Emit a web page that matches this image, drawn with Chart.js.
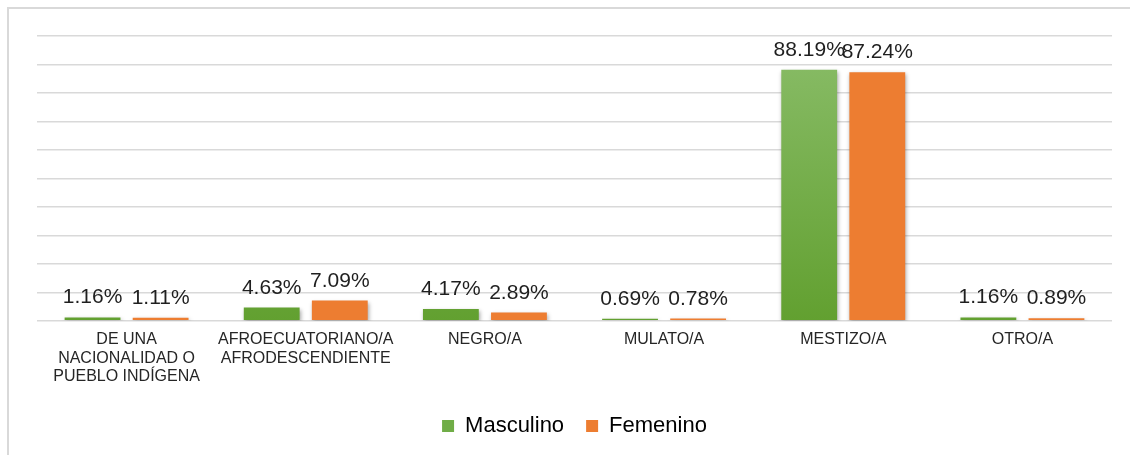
<!DOCTYPE html>
<html>
<head>
<meta charset="utf-8">
<script src="https://cdn.jsdelivr.net/npm/chart.js@4"></script>
<style>
  html, body { margin: 0; padding: 0; background: #fff; }
  body { width: 1130px; height: 455px; position: relative; overflow: hidden; }
  .frame {
    position: absolute; left: 7px; top: 7px; width: 1140px; height: 470px;
    border-left: 2px solid #d9d9d9; border-top: 2px solid #d9d9d9;
  }
  #wrap { position: absolute; left: 0; top: 0; width: 1130px; height: 455px; }
</style>
</head>
<body>
<div class="frame"></div>
<div id="wrap"><canvas id="chart"></canvas></div>
<script>
const categories = [
  ['DE UNA', 'NACIONALIDAD O', 'PUEBLO INDÍGENA'],
  ['AFROECUATORIANO/A', 'AFRODESCENDIENTE'],
  'NEGRO/A',
  'MULATO/A',
  'MESTIZO/A',
  'OTRO/A'
];
const masculino = [1.16, 4.63, 4.17, 0.69, 88.19, 1.16];
const femenino = [1.11, 7.09, 2.89, 0.78, 87.24, 0.89];
const yTicks = [0, 100, 10]; // min, max, step

const fontFamily = '"Liberation Sans", Arial, sans-serif';

// green gradient like the Excel fill
function greenFill(context) {
  const chart = context.chart;
  const area = chart.chartArea;
  if (!area) return '#70ad47';
  const g = chart.ctx.createLinearGradient(0, area.top, 0, area.bottom);
  g.addColorStop(0, '#8abd69');
  g.addColorStop(1, '#62a030');
  return g;
}

// soft shadow under the bars
const barShadow = {
  id: 'barShadow',
  beforeDatasetsDraw(chart) {
    const ctx = chart.ctx;
    ctx.save();
    ctx.shadowColor = 'rgba(0,0,0,0.35)';
    ctx.shadowBlur = 4;
    ctx.shadowOffsetX = 1;
    ctx.shadowOffsetY = 2;
  },
  afterDatasetsDraw(chart) {
    chart.ctx.restore();
  }
};

// value labels above each bar
const valueLabels = {
  id: 'valueLabels',
  afterDatasetsDraw(chart) {
    const ctx = chart.ctx;
    ctx.save();
    ctx.shadowColor = 'transparent';
    ctx.font = '21px ' + fontFamily;
    ctx.fillStyle = '#1f1f1f';
    ctx.textAlign = 'center';
    ctx.textBaseline = 'alphabetic';
    chart.data.datasets.forEach((ds, i) => {
      chart.getDatasetMeta(i).data.forEach((bar, j) => {
        ctx.fillText(ds.data[j].toFixed(2) + '%', bar.x, bar.y - 14);
      });
    });
    ctx.restore();
  }
};

new Chart(document.getElementById('chart'), {
  type: 'bar',
  data: {
    labels: categories,
    datasets: [
      {
        label: 'Masculino',
        data: masculino,
        backgroundColor: greenFill,
        borderWidth: 0,
        categoryPercentage: 0.76,
        barPercentage: 0.82
      },
      {
        label: 'Femenino',
        data: femenino,
        backgroundColor: '#ed7d31',
        borderWidth: 0,
        categoryPercentage: 0.76,
        barPercentage: 0.82
      }
    ]
  },
  options: {
    responsive: true,
    maintainAspectRatio: false,
    animation: false,
    layout: { padding: { left: 37, right: 18, top: 36, bottom: 8 } },
    scales: {
      x: {
        grid: { display: false },
        border: { display: false },
        afterFit(scale) { scale.height += 5; },
        ticks: {
          color: '#262626',
          font: { family: fontFamily, size: 16, lineHeight: 1.15 },
          padding: 2,
          maxRotation: 0,
          autoSkip: false
        }
      },
      y: {
        min: yTicks[0],
        max: yTicks[1],
        ticks: { display: false, stepSize: yTicks[2] },
        border: { display: false },
        grid: { color: '#d9d9d9', lineWidth: 1.5, drawTicks: false }
      }
    },
    plugins: {
      legend: {
        position: 'bottom',
        labels: {
          color: '#1f1f1f',
          font: { family: fontFamily, size: 22 },
          boxWidth: 12,
          boxHeight: 12,
          padding: 22,
          generateLabels(chart) {
            return chart.data.datasets.map((ds, i) => ({
              text: ds.label,
              fillStyle: i === 0 ? '#70ad47' : '#ed7d31',
              strokeStyle: 'transparent',
              lineWidth: 0,
              datasetIndex: i
            }));
          }
        }
      },
      tooltip: { enabled: false }
    }
  },
  plugins: [barShadow, valueLabels]
});
</script>
</body>
</html>
